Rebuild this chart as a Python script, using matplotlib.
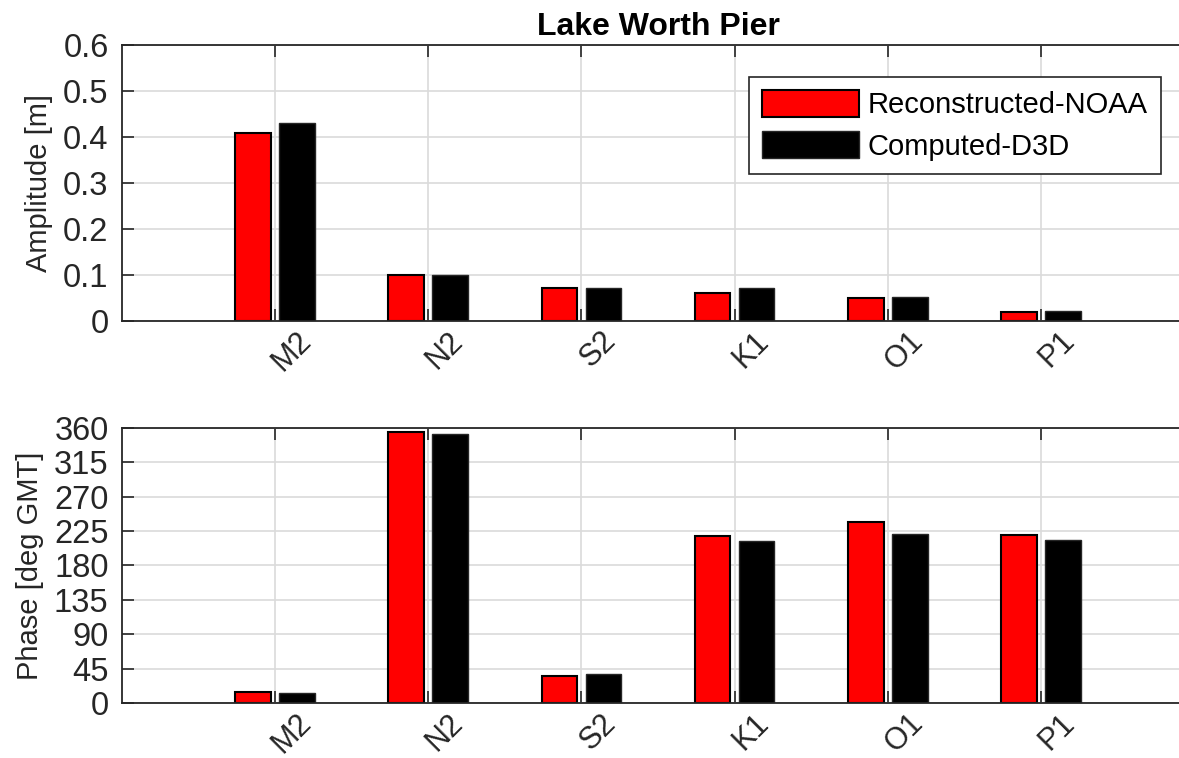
import numpy as np
import matplotlib.pyplot as plt
import matplotlib.transforms as mtransforms

constituents = ['M2', 'N2', 'S2', 'K1', 'O1', 'P1']
amp_noaa = [0.408, 0.100, 0.071, 0.060, 0.051, 0.020]
amp_d3d = [0.430, 0.101, 0.072, 0.071, 0.052, 0.022]
phase_noaa = [14.4, 354.0, 35.3, 218.9, 236.4, 219.8]
phase_d3d = [13.1, 352.0, 38.3, 212.0, 221.5, 213.3]

plt.rcParams['font.family'] = ['Liberation Sans', 'DejaVu Sans']

fig = plt.figure(figsize=(11.79, 7.58), dpi=100)
ax1 = fig.add_axes([0.1033, 0.5765, 0.9096, 0.3641])
ax2 = fig.add_axes([0.1033, 0.0722, 0.9096, 0.3636])

x = np.arange(1, len(constituents) + 1)
w = 0.232
dark = '#262626'


def style_axis(ax, ylim, yticks, ylabel):
    ax.set_xlim(0, 7)
    ax.set_ylim(*ylim)
    ax.set_yticks(yticks)
    ax.set_xticks(x)
    ax.tick_params(axis='both', direction='in', length=8.5, width=1.2,
                   color=dark, labelsize=23.5, labelcolor=dark, top=True, right=True)
    ax.tick_params(axis='x', pad=3.5, labelsize=22)
    ax.tick_params(axis='y', pad=9.5)
    ax.set_xticklabels(constituents, rotation=45, ha='center', va='top')
    # shift rotated labels a bit to the right of the tick, like the original
    offset = mtransforms.ScaledTranslation(0.165, 0, fig.dpi_scale_trans)
    for lab in ax.get_xticklabels():
        lab.set_transform(lab.get_transform() + offset)
    ax.grid(True, color='#dadada', linewidth=1.2)
    ax.set_axisbelow(True)
    for s in ax.spines.values():
        s.set_color(dark)
        s.set_linewidth(1.3)
    ax.set_ylabel(ylabel, fontsize=21, color=dark, labelpad=7)


# amplitude
ax1.bar(x - 0.144, amp_noaa, w, color='#ff0000', edgecolor='black', linewidth=1.5,
        label='Reconstructed-NOAA')
ax1.bar(x + 0.144, amp_d3d, w, color='black', edgecolor=dark, linewidth=1.0,
        label='Computed-D3D')
style_axis(ax1, (0, 0.6), np.arange(0, 0.61, 0.1), 'Amplitude [m]')
ax1.set_yticklabels(['0', '0.1', '0.2', '0.3', '0.4', '0.5', '0.6'])
ax1.set_title('Lake Worth Pier', fontsize=23, fontweight='bold', pad=7)

leg = ax1.legend(loc='upper right', bbox_to_anchor=(6.78, 0.531),
                 bbox_transform=ax1.transData, borderaxespad=0, fontsize=21,
                 fancybox=False, framealpha=1, edgecolor=dark,
                 handlelength=3.3, handleheight=1.05, handletextpad=0.3,
                 labelspacing=0.4, borderpad=0.45)
leg.get_frame().set_linewidth(1.2)

# phase
ax2.bar(x - 0.144, phase_noaa, w, color='#ff0000', edgecolor='black', linewidth=1.5)
ax2.bar(x + 0.144, phase_d3d, w, color='black', edgecolor=dark, linewidth=1.0)
style_axis(ax2, (0, 360), np.arange(0, 361, 45), 'Phase [deg GMT]')

fig.savefig('out.png', dpi=100)
